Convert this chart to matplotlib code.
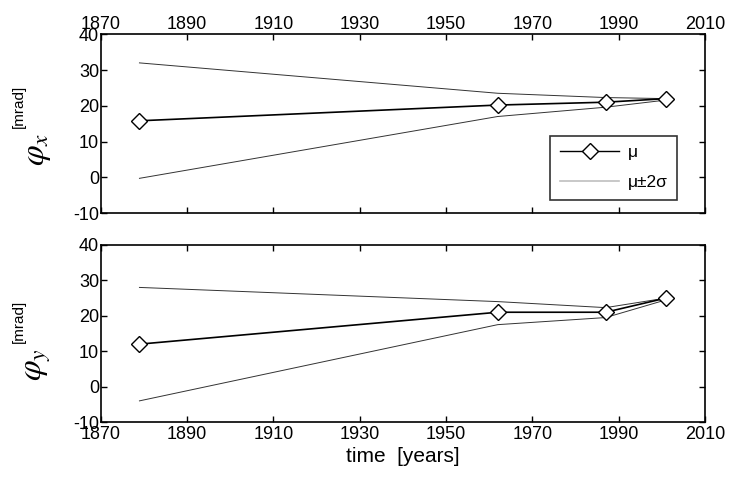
import numpy as np
import matplotlib
matplotlib.use("Agg")
import matplotlib.pyplot as plt
from matplotlib.lines import Line2D

# survey epochs
years = [1879, 1962, 1987, 2001]

# phi_x [mrad]
phix_mu = [15.8, 20.2, 21.0, 22.0]
phix_up = [32.0, 23.5, 22.3, 22.0]
phix_lo = [-0.3, 17.0, 19.6, 21.6]

# phi_y [mrad]
phiy_mu = [12.0, 21.0, 21.0, 25.0]
phiy_up = [28.0, 24.0, 22.3, 25.0]
phiy_lo = [-4.0, 17.5, 19.5, 24.5]

xticks = np.arange(1870, 2011, 20)
yticks = np.arange(-10, 41, 10)

plt.rcParams['font.family'] = ['Liberation Sans', 'DejaVu Sans']
plt.rcParams['mathtext.fontset'] = 'stix'
plt.rcParams['axes.unicode_minus'] = False

fig = plt.figure(figsize=(7.29, 4.83), dpi=100)
ax1 = fig.add_axes([0.138, 0.559, 0.829, 0.370])
ax2 = fig.add_axes([0.138, 0.126, 0.829, 0.367])

def draw(ax, mu, up, lo):
    ax.plot(years, up, color='0.2', lw=0.7)
    ax.plot(years, lo, color='0.2', lw=0.7)
    ax.plot(years, mu, color='black', lw=1.2, marker='D', ms=8,
            mfc='white', mec='black', mew=1.0)
    ax.set_xlim(1870, 2010)
    ax.set_ylim(-10, 40)
    ax.set_xticks(xticks)
    ax.set_yticks(yticks)
    ax.tick_params(direction='in', length=4, width=1, labelsize=13,
                   top=True, right=True, pad=1)
    for s in ax.spines.values():
        s.set_linewidth(1.2)

draw(ax1, phix_mu, phix_up, phix_lo)
draw(ax2, phiy_mu, phiy_up, phiy_lo)

ax1.xaxis.set_ticks_position('both')
ax1.tick_params(labelbottom=False, labeltop=True)
ax2.tick_params(axis='x', pad=3)

ax2.set_xlabel('time  [years]', fontsize=15, labelpad=3)

# y labels: phi with small unit above
fig.text(0.052, 0.690, r'$\varphi_x$', fontsize=24, rotation=90,
         ha='center', va='center')
fig.text(0.026, 0.780, '[mrad]', fontsize=11, rotation=90,
         ha='center', va='center')
fig.text(0.052, 0.245, r'$\varphi_y$', fontsize=24, rotation=90,
         ha='center', va='center')
fig.text(0.026, 0.335, '[mrad]', fontsize=11, rotation=90,
         ha='center', va='center')

handles = [Line2D([], [], color='black', lw=1, marker='D', ms=8,
                  mfc='white', mec='black'),
           Line2D([], [], color='0.75', lw=1.2)]
leg = ax1.legend(handles, ['μ', 'μ±2σ'], loc='lower right',
                 bbox_to_anchor=(0.954, 0.073), fontsize=12.5, frameon=True,
                 fancybox=False, edgecolor='black', handlelength=3.4,
                 handletextpad=0.5, borderpad=0.55, labelspacing=0.85,
                 borderaxespad=0)
leg.get_frame().set_linewidth(1.2)

fig.savefig('out.png', dpi=100)
